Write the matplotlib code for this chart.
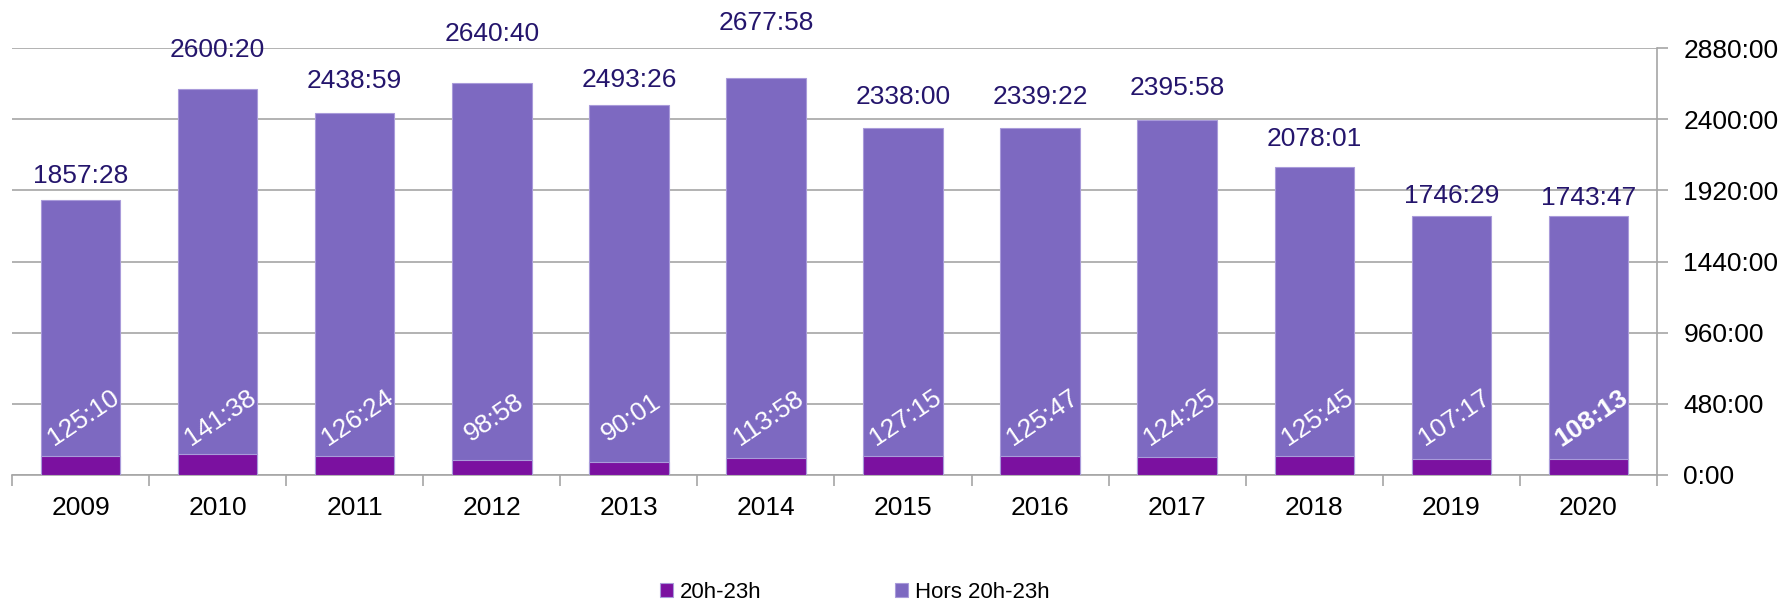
import numpy as np
import matplotlib
matplotlib.use('Agg')
import matplotlib.pyplot as plt
from matplotlib.ticker import FuncFormatter

plt.rcParams['font.family'] = ['Liberation Sans', 'DejaVu Sans']

# data (hours:minutes)
years = ['2009', '2010', '2011', '2012', '2013', '2014', '2015', '2016', '2017', '2018', '2019', '2020']
hors_20_23 = ['1857:28', '2600:20', '2438:59', '2640:40', '2493:26', '2677:58',
              '2338:00', '2339:22', '2395:58', '2078:01', '1746:29', '1743:47']
h20_23 = ['125:10', '141:38', '126:24', '98:58', '90:01', '113:58',
          '127:15', '125:47', '124:25', '125:45', '107:17', '108:13']

# pixel offsets of the top labels (they were moved by hand in the original)
top_offsets = [24, 39, 32, 49, 25, 55, 31, 31, 32, 28, 20, 18]


def to_hours(s):
    h, m = s.split(':')
    return int(h) + int(m) / 60.0


hors_vals = np.array([to_hours(s) for s in hors_20_23])
h20_vals = np.array([to_hours(s) for s in h20_23])

fig = plt.figure(figsize=(17.81, 6.03), dpi=100)
ax = fig.add_axes([12 / 1781, 1 - 475 / 603, (1657 - 12) / 1781, (475 - 48) / 603])

x = np.arange(len(years))
w = 0.58
c_dark = '#7B11A0'
c_light = '#7D69C1'

ax.bar(x, hors_vals, w, color=c_light, edgecolor='#A99BDA', linewidth=0.8, zorder=2,
       label='Hors 20h-23h')
ax.bar(x, h20_vals, w, color=c_dark, edgecolor='#A99BDA', linewidth=0.8, zorder=3,
       label='20h-23h')

for i in range(len(years)):
    ax.annotate(hors_20_23[i], (x[i], hors_vals[i]), xytext=(0, top_offsets[i]),
                textcoords='offset pixels', ha='center', va='center',
                fontsize=19, color='#24156C', zorder=5)
    ax.text(x[i] + 0.02, 385, h20_23[i], rotation=34, ha='center', va='center',
            fontsize=19, color='white', zorder=5,
            fontweight='bold' if i == len(years) - 1 else 'normal')

ax.set_xlim(-0.5, len(years) - 0.5)
ax.set_ylim(0, 2880)

ax.yaxis.tick_right()
ax.set_yticks(np.arange(0, 2881, 480))
ax.yaxis.set_major_formatter(FuncFormatter(lambda v, p: '%d:00' % v))
ax.grid(axis='y', color='#A6A6A6', linewidth=1.2, zorder=0)

ax.set_xticks(np.arange(-0.5, len(years), 1.0))
ax.set_xticklabels([])
ax.set_xticks(x, minor=True)
ax.set_xticklabels(years, minor=True)
ax.tick_params(axis='x', which='major', direction='out', length=8, color='#A6A6A6', width=1.2)
ax.tick_params(axis='x', which='minor', length=0, pad=15, labelsize=19)
ax.tick_params(axis='y', direction='out', length=8, color='#A6A6A6', width=1.2,
               labelsize=19, pad=11)

for s in ['left', 'top']:
    ax.spines[s].set_visible(False)
for s in ['right', 'bottom']:
    ax.spines[s].set_color('#A6A6A6')
    ax.spines[s].set_linewidth(1.2)

handles, labels = ax.get_legend_handles_labels()
fig.legend(handles[::-1], labels[::-1], loc='lower center', ncol=2,
           bbox_to_anchor=(0.48, -0.033), frameon=False, fontsize=16,
           handlelength=0.6, handleheight=0.6, handletextpad=0.3, columnspacing=6.0)

fig.savefig('out.png', dpi=100)
